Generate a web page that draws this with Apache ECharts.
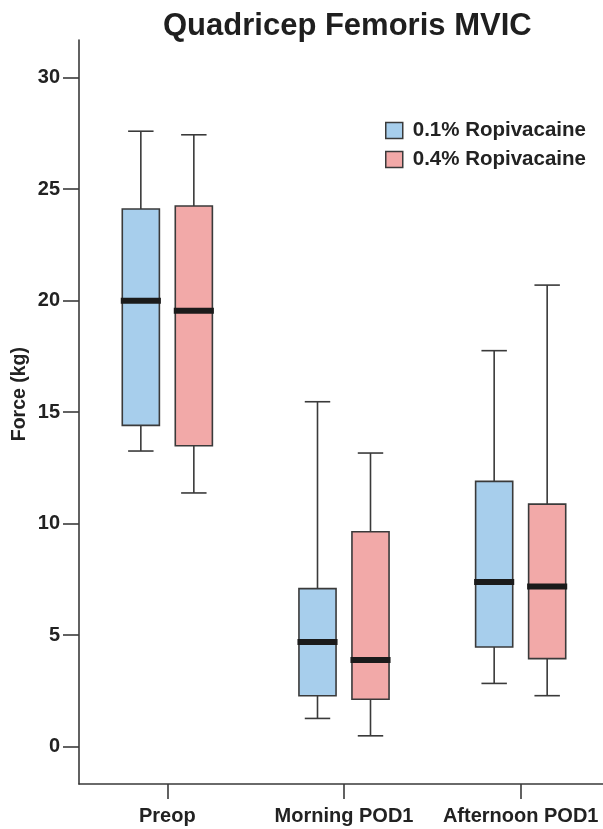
<!DOCTYPE html>
<html>
<head>
<meta charset="utf-8">
<script src="https://cdn.jsdelivr.net/npm/echarts@6/dist/echarts.min.js"></script>
<style>
html,body{margin:0;padding:0;background:#fff;}
#chart{width:603px;height:829px;}
</style>
</head>
<body>
<div id="chart"></div>
<script>
// ---- data ----
const categories = ['Preop', 'Morning POD1', 'Afternoon POD1'];
const seriesNames = ['0.1% Ropivacaine', '0.4% Ropivacaine'];
// [low whisker, Q1, median, Q3, high whisker]
const lowDose = [
  [13.26, 14.41, 20.0, 24.11, 27.6],
  [1.27, 2.29, 4.70, 7.09, 15.47],
  [2.84, 4.47, 7.39, 11.9, 17.76]
];
const highDose = [
  [11.38, 13.5, 19.55, 24.25, 27.44],
  [0.49, 2.13, 3.89, 9.64, 13.17],
  [2.29, 3.95, 7.19, 10.88, 20.7]
];
const yTicks = [0, 5, 10, 15, 20, 25, 30];

// ---- style ----
const FONT = '"Liberation Sans", Arial, Helvetica, sans-serif';
const fills = ['#A7CEEC', '#F2A9A8'];
const edge = '#3a3a3a';

function makeRender(offsetFrac) {
  return function (params, api) {
    const ci = api.value(0);
    const band = api.size([1, 0])[0];
    const cx = api.coord([ci, 0])[0] + offsetFrac * band;
    const boxW = band * 0.21;
    const capW = band * 0.072;
    const yLow = api.coord([ci, api.value(1)])[1];
    const yQ1 = api.coord([ci, api.value(2)])[1];
    const yMed = api.coord([ci, api.value(3)])[1];
    const yQ3 = api.coord([ci, api.value(4)])[1];
    const yHigh = api.coord([ci, api.value(5)])[1];
    const lineStyle = { stroke: edge, lineWidth: 1.6, fill: null };
    return {
      type: 'group',
      children: [
        { type: 'line', shape: { x1: cx, y1: yHigh, x2: cx, y2: yQ3 }, style: lineStyle },
        { type: 'line', shape: { x1: cx, y1: yQ1, x2: cx, y2: yLow }, style: lineStyle },
        { type: 'line', shape: { x1: cx - capW, y1: yHigh, x2: cx + capW, y2: yHigh }, style: lineStyle },
        { type: 'line', shape: { x1: cx - capW, y1: yLow, x2: cx + capW, y2: yLow }, style: lineStyle },
        { type: 'rect', shape: { x: cx - boxW / 2, y: yQ3, width: boxW, height: yQ1 - yQ3 },
          style: { fill: api.visual('color'), stroke: edge, lineWidth: 1.6 } },
        { type: 'line', shape: { x1: cx - boxW / 2 - 1.5, y1: yMed, x2: cx + boxW / 2 + 1.5, y2: yMed },
          style: { stroke: '#1b1b1b', lineWidth: 6 } }
      ]
    };
  };
}

function toRows(arr) {
  return arr.map((v, i) => [i].concat(v));
}

const chart = echarts.init(document.getElementById('chart'), null, { renderer: 'canvas' });
chart.setOption({
  backgroundColor: '#ffffff',
  animation: false,
  title: {
    text: 'Quadricep Femoris MVIC',
    left: 163,
    top: 11,
    padding: 0,
    textStyle: { fontFamily: FONT, fontWeight: 'bold', fontSize: 31, color: '#1f1f1f' }
  },
  legend: {
    orient: 'vertical',
    left: 385,
    top: 120,
    padding: 0,
    itemWidth: 17,
    itemHeight: 16,
    itemGap: 8,
    textStyle: { fontFamily: FONT, fontWeight: 'bold', fontSize: 20.5, lineHeight: 20, color: '#222', padding: [0, 0, 0, 5] },
    data: seriesNames.map((n, i) => ({
      name: n,
      icon: 'rect',
      itemStyle: { color: fills[i], borderColor: edge, borderWidth: 1.5 }
    }))
  },
  grid: { left: 79, top: 40, bottom: 45, width: 530, containLabel: false, outerBoundsMode: 'none' },
  xAxis: {
    type: 'category',
    data: categories,
    boundaryGap: true,
    axisLine: { onZero: false, lineStyle: { color: edge, width: 1.6 } },
    axisTick: { show: true, interval: 0, alignWithLabel: true, length: 15, lineStyle: { color: edge, width: 1.6 } },
    axisLabel: { interval: 0, hideOverlap: false, fontFamily: FONT, fontWeight: 'bold', fontSize: 20, color: '#222', margin: 22 },
    splitLine: { show: false }
  },
  yAxis: {
    type: 'value',
    min: -1.67,
    max: 31.69,
    axisLine: { show: true, lineStyle: { color: edge, width: 1.6 } },
    axisTick: { show: true, length: 16, customValues: yTicks, lineStyle: { color: edge, width: 1.6 } },
    axisLabel: { customValues: yTicks, fontFamily: FONT, fontWeight: 'bold', fontSize: 20, color: '#222', margin: 19 },
    splitLine: { show: false }
  },
  graphic: [{
    type: 'text',
    left: 10,
    top: 347,
    rotation: Math.PI / 2,
    style: { text: 'Force (kg)', font: 'bold 19.5px ' + FONT, fill: '#222' }
  }],
  series: [
    {
      name: seriesNames[0],
      type: 'custom',
      renderItem: makeRender(-0.15),
      itemStyle: { color: fills[0] },
      encode: { x: 0, y: [1, 2, 3, 4, 5] },
      data: toRows(lowDose)
    },
    {
      name: seriesNames[1],
      type: 'custom',
      renderItem: makeRender(0.15),
      itemStyle: { color: fills[1] },
      encode: { x: 0, y: [1, 2, 3, 4, 5] },
      data: toRows(highDose)
    }
  ]
});
</script>
</body>
</html>
